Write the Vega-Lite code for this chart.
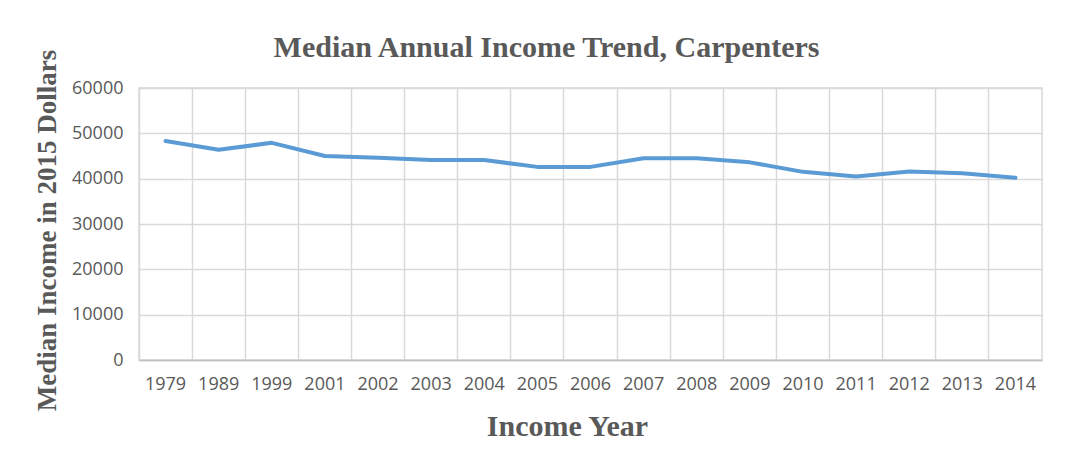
{
  "$schema": "https://vega.github.io/schema/vega-lite/v6.json",
  "autosize": "none",
  "width": 903,
  "height": 272,
  "padding": {"left": 139, "top": 88, "right": 27, "bottom": 112},
  "background": "white",
  "title": {
    "text": "Median Annual Income Trend, Carpenters",
    "font": "Liberation Serif",
    "fontSize": 30,
    "fontWeight": "bold",
    "color": "#595959",
    "anchor": "middle",
    "dx": -44,
    "offset": -14
  },
  "data": {
    "values": [
      {"year": "1979", "income": 48300},
      {"year": "1989", "income": 46400},
      {"year": "1999", "income": 47900},
      {"year": "2001", "income": 45000},
      {"year": "2002", "income": 44600},
      {"year": "2003", "income": 44100},
      {"year": "2004", "income": 44100},
      {"year": "2005", "income": 42600},
      {"year": "2006", "income": 42600},
      {"year": "2007", "income": 44500},
      {"year": "2008", "income": 44500},
      {"year": "2009", "income": 43600},
      {"year": "2010", "income": 41500},
      {"year": "2011", "income": 40500},
      {"year": "2012", "income": 41600},
      {"year": "2013", "income": 41200},
      {"year": "2014", "income": 40200}
    ]
  },
  "mark": {"type": "line", "color": "#5b9bd5", "strokeWidth": 4, "strokeCap": "round", "strokeJoin": "round"},
  "encoding": {
    "x": {
      "field": "year",
      "type": "ordinal",
      "scale": {"type": "band", "paddingInner": 0, "paddingOuter": 0},
      "bandPosition": 0.5,
      "axis": {
        "title": "Income Year",
        "titleFont": "Liberation Serif",
        "titleFontSize": 30,
        "titleFontWeight": "bold",
        "titleColor": "#595959",
        "titlePadding": 18,
        "titleX": 428,
        "labelFont": "Open Sans",
        "labelFontSize": 18,
        "labelColor": "#595959",
        "labelPadding": 15,
        "labelAngle": 0,
        "ticks": false,
        "grid": true,
        "bandPosition": 0,
        "gridColor": "#d9d9d9",
        "gridWidth": 1.5,
        "domainColor": "#bfbfbf",
        "domainWidth": 1.5
      }
    },
    "y": {
      "field": "income",
      "type": "quantitative",
      "scale": {"domain": [0, 60000], "nice": false},
      "axis": {
        "values": [0, 10000, 20000, 30000, 40000, 50000, 60000],
        "format": "d",
        "title": "Median Income in 2015 Dollars",
        "titleFont": "Liberation Serif",
        "titleFontSize": 27,
        "titleFontWeight": "bold",
        "titleColor": "#595959",
        "titlePadding": 10,
        "titleY": 142,
        "labelFont": "Open Sans",
        "labelFontSize": 18,
        "labelColor": "#595959",
        "labelPadding": 16,
        "ticks": false,
        "domain": false,
        "gridColor": "#d9d9d9",
        "gridWidth": 1.5
      }
    }
  },
  "config": {
    "view": {"stroke": "#d9d9d9", "strokeWidth": 1.5}
  }
}
